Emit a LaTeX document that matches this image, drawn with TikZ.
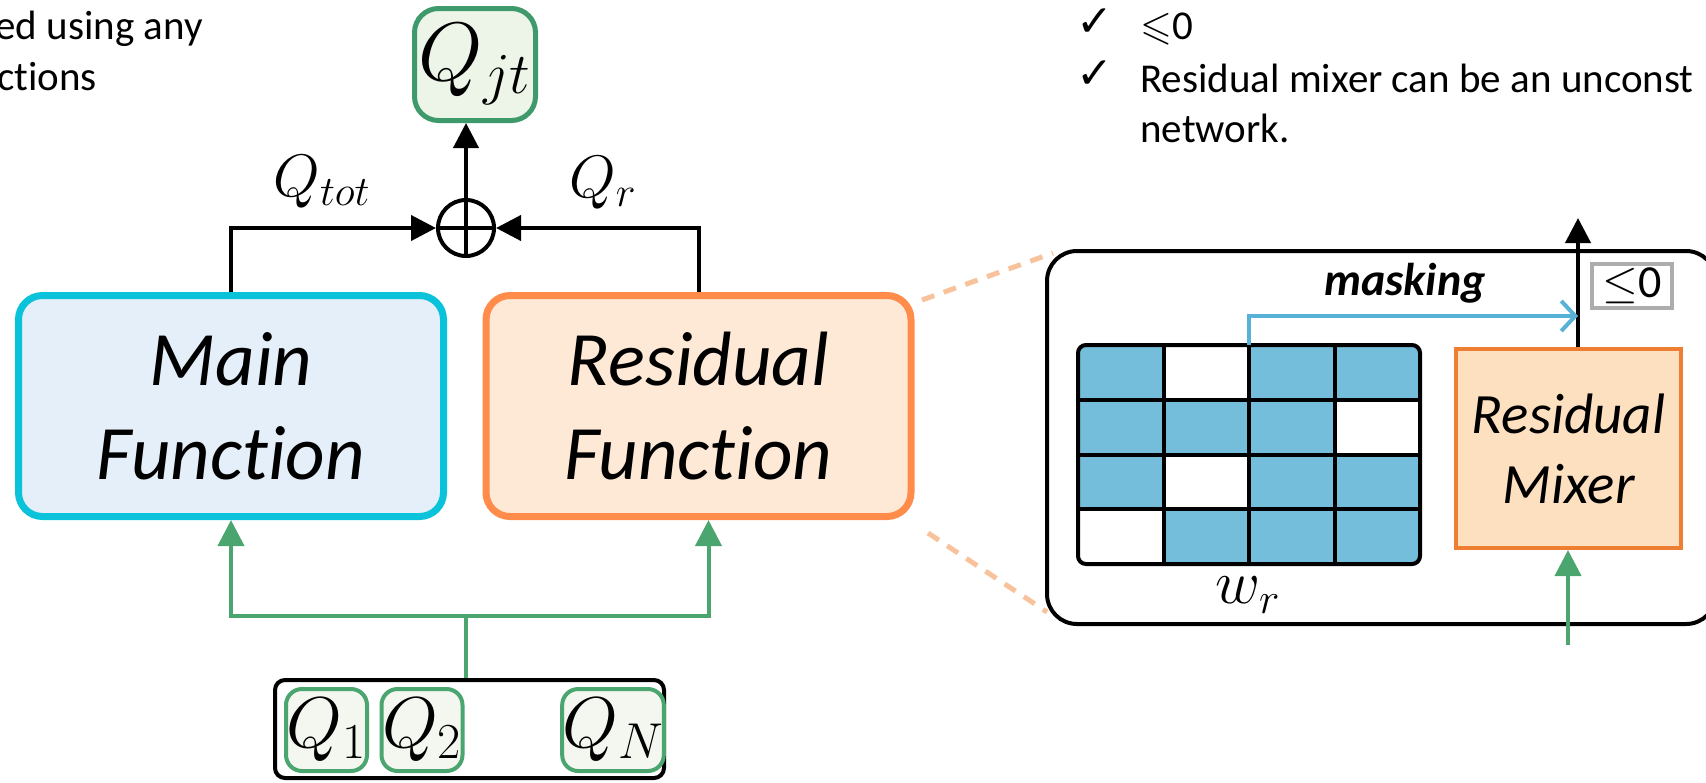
\RequirePackage{fix-cm}
\documentclass[tikz,border=0pt]{standalone}
\usepackage{amssymb}
\usepackage{fontspec}
\setmainfont{Carlito}[Ligatures=NoCommon]
\newfontfamily\symfont{DejaVu Sans}
\usetikzlibrary{arrows.meta}

\definecolor{mainline}{HTML}{0AC3DA}
\definecolor{mainfill}{HTML}{E4EFF9}
\definecolor{resline}{HTML}{FF8C4A}
\definecolor{resfill}{HTML}{FEE9D6}
\definecolor{qline}{HTML}{3F9A6B}
\definecolor{qfill}{HTML}{EDF5E8}
\definecolor{qifill}{HTML}{F4F7F0}
\definecolor{flowgreen}{HTML}{4AA56F}
\definecolor{zoomdash}{HTML}{F8C29C}
\definecolor{cellblue}{HTML}{75BEDB}
\definecolor{maskblue}{HTML}{58B2D8}
\definecolor{mixline}{HTML}{EE7E32}
\definecolor{mixfill}{HTML}{FCE0C0}
\definecolor{capgrey}{HTML}{ADADAD}

\begin{document}
\begin{tikzpicture}[x=0.5pt,y=-0.5pt,
  funcbox/.style={draw, line width=3.5pt, rounded corners=12pt,
    minimum width=212.5pt, minimum height=110.5pt, align=center,
    font=\fontsize{38.5}{47}\selectfont\itshape},
  qbox/.style={draw=flowgreen, fill=qifill, line width=2pt, rounded corners=8pt,
    minimum width=40.5pt, minimum height=41pt, inner sep=0pt,
    font=\fontsize{36}{40}\selectfont},
  blkarrow/.style={line width=2pt, -{Triangle[length=12.5pt,width=12.5pt]}},
  grnarrow/.style={draw=flowgreen, line width=2pt, -{Triangle[length=13pt,width=13pt]}},
  grnline/.style={draw=flowgreen, line width=2pt},
  dashzoom/.style={draw=zoomdash, line width=2.5pt, dash pattern=on 6.5pt off 5pt},
  note/.style={anchor=base west, font=\fontsize{20.5}{24}\selectfont, inner sep=0pt},
  tick/.style={anchor=base west, font=\symfont\fontsize{22}{24}\selectfont, inner sep=0pt}
]
\useasboundingbox (0,0) rectangle (1706,782);

% side notes
\node[note] (noteA) at (-5,39) {ed using any};
\node[note] (noteB) at (-3,90) {ctions};
\node[tick] (tickA) at (1076,36) {✓};
\node[tick] (tickB) at (1076,88) {✓};
\node[note] (noteC) at (1140,39) {$\leqslant$0};
\node[note] (noteD) at (1140,92) {Residual mixer can be an unconst};
\node[note] (noteE) at (1140,142) {network.};

% main and residual functions
\node[funcbox, draw=mainline, fill=mainfill] (main) at (231,406) {Main\\Function};
\node[funcbox, draw=resline, fill=resfill] (resid) at (698.5,406) {Residual\\Function};

% joint value and the sum
\node[draw=qline, fill=qfill, line width=2.5pt, rounded corners=12pt,
  minimum width=60.5pt, minimum height=56pt, inner sep=0pt,
  font=\fontsize{41.5}{46}\selectfont] (qjt) at (475,64.5) {$Q_{jt}$};
\node[draw, circle, line width=2pt, minimum size=28pt, inner sep=0pt] (plus) at (466,228) {};
\draw[line width=2pt] (plus.north) -- (plus.south);
\draw[line width=2pt] (plus.west) -- (plus.east);

\draw[blkarrow] (main.north) |- (plus.west);
\draw[blkarrow] (resid.north) |- (plus.east);
\draw[blkarrow] (plus.north) -- (plus.north |- qjt.south);

\node[font=\fontsize{30}{34}\selectfont] (lbltot) at (322,182) {$Q_{tot}$};
\node[font=\fontsize{30}{34}\selectfont] (lblr) at (603,183) {$Q_{r}$};

% individual agent values
\node[draw, line width=2pt, rounded corners=5pt, minimum width=194.5pt,
  minimum height=49pt] (agents) at (469.5,729) {};
\node[qbox] (q1) at (326.5,730) {$Q_1$};
\node[qbox] (q2) at (422,730) {$Q_2$};
\node[qbox] (qn) at (613,730) {$Q_N$};

\coordinate (split) at (466,616);
\draw[grnline] (split |- agents.north) -- (split);
\draw[grnarrow] (split) -| (main.south);
\draw[grnarrow] (split) -| ([xshift=5pt]resid.south);

% zoom-in of the residual function
\coordinate (dashA) at (922,300);
\coordinate (dashB) at (1053,253);
\coordinate (dashC) at (928,533);
\coordinate (dashD) at (1047,612);
\draw[dashzoom] (dashA) -- (dashB);
\draw[dashzoom] (dashC) -- (dashD);

\draw[line width=2pt, rounded corners=15pt] (1047,251) rectangle (1716,624);

% masked weight matrix
\begin{scope}
  \clip[rounded corners=4pt] (1078,345) rectangle (1420,564);
  \fill[cellblue] (1078,345) rectangle (1420,564);
  \fill[white] (1163.5,345) rectangle (1249,399.75);
  \fill[white] (1334.5,399.75) rectangle (1420,454.5);
  \fill[white] (1163.5,454.5) rectangle (1249,509.25);
  \fill[white] (1078,509.25) rectangle (1163.5,564);
\end{scope}
\foreach \gx in {1163.5,1249,1334.5}
  \draw[line width=2pt] (\gx,345) -- (\gx,564);
\foreach \gy in {399.75,454.5,509.25}
  \draw[line width=2pt] (1078,\gy) -- (1420,\gy);
\draw[line width=2pt, rounded corners=4pt] (1078,345) rectangle (1420,564);
\coordinate (gridtop) at (1249,345);
\node[font=\fontsize{31}{34}\selectfont] (wr) at (1248,595) {$w_r$};

% residual mixer
\node[draw=mixline, fill=mixfill, line width=2pt, minimum width=112.5pt,
  minimum height=99.5pt, align=center,
  font=\fontsize{28.5}{35}\selectfont\itshape] (mixer) at (1568.5,448.5) {Residual\\Mixer};
\coordinate (mixout) at (1578,347);
\coordinate (outtip) at (1578,218);
\draw[blkarrow] (mixout) -- (outtip);
\coordinate (maskturn) at (1578,316);
\draw[draw=maskblue, line width=2pt, -{Straight Barb[length=7pt,width=15pt]}]
  (gridtop) |- (maskturn);
\node[font=\fontsize{23}{27}\selectfont\bfseries\itshape] (masklbl) at (1405,283) {masking};

\node[draw=capgrey, line width=2pt, minimum width=40pt, minimum height=22pt,
  inner sep=0pt, font=\fontsize{23}{27}\selectfont] (cap) at (1632,286) {$\leq$0};

\coordinate (mixin) at (1568,645);
\draw[grnarrow] (mixin) -- (mixin |- mixer.south);
\end{tikzpicture}
\end{document}
